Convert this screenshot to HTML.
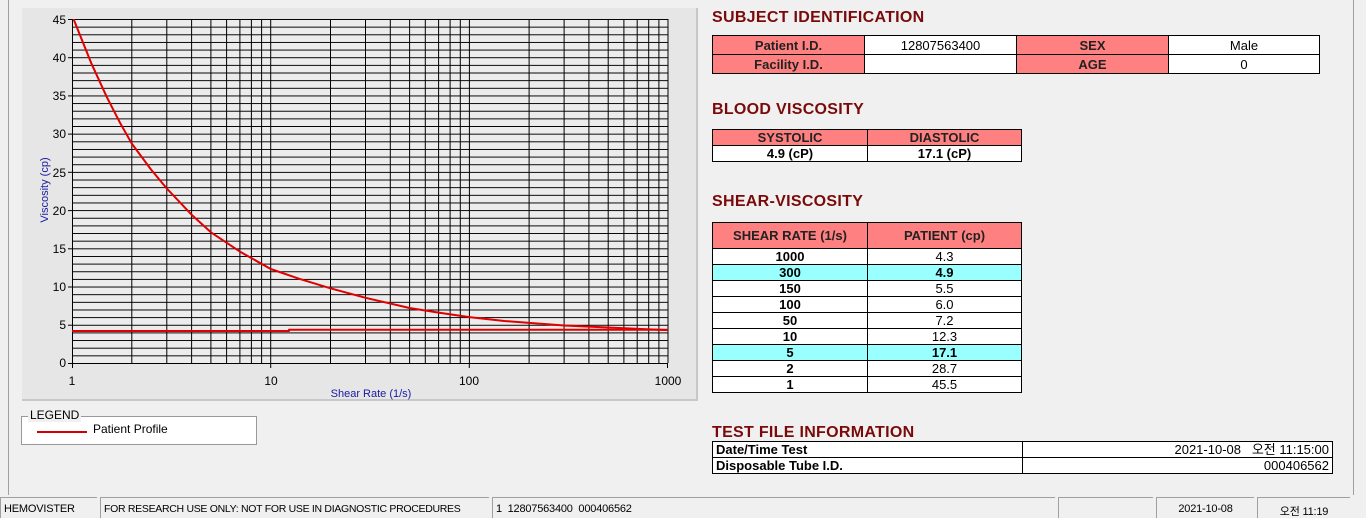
<!DOCTYPE html>
<html><head><meta charset="utf-8"><style>
*{margin:0;padding:0;box-sizing:border-box}
body{width:1366px;height:518px;background:#f0f0f0;position:relative;overflow:hidden;font-family:"Liberation Sans","Noto Sans CJK KR",sans-serif}
.a{position:absolute}
h2{position:absolute;font:bold 16px "Liberation Sans",sans-serif;color:#7a0a0a;letter-spacing:0.3px}
table{position:absolute;border-collapse:collapse;font-size:13px}
td{border:1px solid #000;text-align:center;padding:0;line-height:15px;height:19px}
.p{background:#ff8080;font-weight:bold;color:#222}
.w{background:#fff}
.c{background:#99ffff;font-weight:bold}
.b{font-weight:bold}
.sb{position:absolute;top:497px;height:21px;border-top:1px solid #a0a0a0;border-left:1px solid #a0a0a0;font-size:11px;letter-spacing:-0.2px;padding:5px 3px 0;color:#000;white-space:nowrap;overflow:hidden}
</style></head><body>
<div class="a" style="left:8px;top:0;width:1px;height:495px;background:#a0a0a0"></div>
<div class="a" style="left:1353px;top:0;width:1px;height:495px;background:#a0a0a0"></div>
<div class="a" style="left:22px;top:8px;width:676px;height:393px;background:#e6e6e6;border-bottom:2px solid #c8c8c8;border-right:2px solid #c8c8c8"></div>
<svg class="a" style="left:0;top:0" width="700" height="410">
<defs><pattern id="h" patternUnits="userSpaceOnUse" x="0" y="363" width="700" height="7.644"><line x1="0" y1="0.5" x2="700" y2="0.5" stroke="#000" stroke-width="1"/></pattern>
<g id="dec" stroke="#000" stroke-width="1"><line x1="59.8" y1="19" x2="59.8" y2="363"/><line x1="94.8" y1="19" x2="94.8" y2="363"/><line x1="119.6" y1="19" x2="119.6" y2="363"/><line x1="138.9" y1="19" x2="138.9" y2="363"/><line x1="154.6" y1="19" x2="154.6" y2="363"/><line x1="167.9" y1="19" x2="167.9" y2="363"/><line x1="179.4" y1="19" x2="179.4" y2="363"/><line x1="189.6" y1="19" x2="189.6" y2="363"/><line x1="198.7" y1="19" x2="198.7" y2="363"/></g></defs>
<rect x="72" y="19" width="596" height="344" fill="#ececec"/>
<rect x="72" y="19" width="596" height="344" fill="url(#h)"/>
<use href="#dec" x="72"/><use href="#dec" x="270.7"/><use href="#dec" x="469.3"/>
<line x1="72.5" y1="19" x2="72.5" y2="368" stroke="#000"/>
<line x1="68" y1="363.5" x2="668" y2="363.5" stroke="#000"/>
<g stroke="#000"><line x1="68" y1="19.5" x2="72" y2="19.5"/><line x1="68" y1="57.7" x2="72" y2="57.7"/><line x1="68" y1="95.9" x2="72" y2="95.9"/><line x1="68" y1="134.1" x2="72" y2="134.1"/><line x1="68" y1="172.3" x2="72" y2="172.3"/><line x1="68" y1="210.6" x2="72" y2="210.6"/><line x1="68" y1="248.8" x2="72" y2="248.8"/><line x1="68" y1="287" x2="72" y2="287"/><line x1="68" y1="325.2" x2="72" y2="325.2"/><line x1="270.7" y1="363" x2="270.7" y2="368"/><line x1="469.3" y1="363" x2="469.3" y2="368"/><line x1="667.5" y1="363" x2="667.5" y2="368"/></g>
<g font-size="12" fill="#000" text-anchor="end" font-family="Liberation Sans,sans-serif"><text x="66" y="24">45</text><text x="66" y="62">40</text><text x="66" y="100">35</text><text x="66" y="138">30</text><text x="66" y="177">25</text><text x="66" y="215">20</text><text x="66" y="253">15</text><text x="66" y="291">10</text><text x="66" y="329">5</text><text x="66" y="367">0</text></g>
<g font-size="12" fill="#000" text-anchor="middle" font-family="Liberation Sans,sans-serif"><text x="72" y="385">1</text><text x="271" y="385">10</text><text x="469" y="385">100</text><text x="668" y="385">1000</text></g>
<text x="371" y="397" font-size="11" fill="#1a1aa0" text-anchor="middle" font-family="Liberation Sans,sans-serif">Shear Rate (1/s)</text>
<text transform="translate(48,190) rotate(-90)" font-size="11" fill="#1a1aa0" text-anchor="middle" font-family="Liberation Sans,sans-serif">Viscosity (cp)</text>
<clipPath id="cp"><rect x="72" y="19" width="596" height="344"/></clipPath>
<g clip-path="url(#cp)" fill="none" stroke="#e00000" stroke-width="2" stroke-linejoin="round">
<polyline points="72,15.2 91.3,63.3 107,97.4 120.3,123.3 131.8,143.6 151.1,169.6 166.8,188.5 191.6,214.7 210.9,232.3 239.9,251.6 270.7,269 299.7,278.9 330.5,288.3 365.5,297.8 409.5,308 438.6,312.6 469.3,317.1 504.3,321 529.2,322.9 564.1,325.5 616.5,327.9 668,330.1"/>
<polyline points="72,331 289,331 289,329.7 668,329.7"/>
</g>
</svg>
<div class="a" style="left:21px;top:416px;width:236px;height:29px;border:1px solid #999;background:#fff"></div>
<div class="a" style="left:28px;top:408px;background:#f0f0f0;font-size:12px;padding:0 2px">LEGEND</div>
<div class="a" style="left:37px;top:431px;width:50px;height:2px;background:#d00000"></div>
<div class="a" style="left:93px;top:422px;font-size:12px">Patient Profile</div>

<h2 style="left:712px;top:9px">SUBJECT IDENTIFICATION</h2>
<table style="left:712px;top:35px;width:608px"><tr><td class="p" style="width:152px">Patient I.D.</td><td class="w" style="width:152px">12807563400</td><td class="p" style="width:152px">SEX</td><td class="w">Male</td></tr><tr><td class="p">Facility I.D.</td><td class="w"></td><td class="p">AGE</td><td class="w">0</td></tr></table>
<h2 style="left:712px;top:101px">BLOOD VISCOSITY</h2>
<table style="left:712px;top:129px;width:310px"><tr><td class="p" style="width:155px;height:16px">SYSTOLIC</td><td class="p" style="height:16px">DIASTOLIC</td></tr><tr><td class="w b" style="height:16px">4.9 (cP)</td><td class="w b" style="height:16px">17.1 (cP)</td></tr></table>
<h2 style="left:712px;top:193px">SHEAR-VISCOSITY</h2>
<table style="left:712px;top:222px;width:310px"><tr><td class="p" style="width:155px;height:26px">SHEAR RATE (1/s)</td><td class="p" style="height:26px">PATIENT (cp)</td></tr>
<tr><td class="w b" style="height:16px">1000</td><td class="w" style="height:16px">4.3</td></tr>
<tr><td class="c" style="height:16px">300</td><td class="c" style="height:16px">4.9</td></tr>
<tr><td class="w b" style="height:16px">150</td><td class="w" style="height:16px">5.5</td></tr>
<tr><td class="w b" style="height:16px">100</td><td class="w" style="height:16px">6.0</td></tr>
<tr><td class="w b" style="height:16px">50</td><td class="w" style="height:16px">7.2</td></tr>
<tr><td class="w b" style="height:16px">10</td><td class="w" style="height:16px">12.3</td></tr>
<tr><td class="c" style="height:16px">5</td><td class="c" style="height:16px">17.1</td></tr>
<tr><td class="w b" style="height:16px">2</td><td class="w" style="height:16px">28.7</td></tr>
<tr><td class="w b" style="height:16px">1</td><td class="w" style="height:16px">45.5</td></tr></table>
<h2 style="left:712px;top:424px">TEST FILE INFORMATION</h2>
<table style="left:712px;top:441px;width:621px"><tr><td class="w b" style="width:310px;height:16px;text-align:left;padding-left:3px">Date/Time Test</td><td class="w" style="height:16px;text-align:right;padding-right:3px">2021-10-08 &nbsp; 오전 11:15:00</td></tr><tr><td class="w b" style="height:16px;text-align:left;padding-left:3px">Disposable Tube I.D.</td><td class="w" style="height:16px;text-align:right;padding-right:3px">000406562</td></tr></table>

<div class="sb" style="left:0;width:97px">HEMOVISTER</div>
<div class="sb" style="left:100px;width:389px;font-size:10.5px;letter-spacing:-0.3px">FOR RESEARCH USE ONLY: NOT FOR USE IN DIAGNOSTIC PROCEDURES</div>
<div class="sb" style="left:492px;width:563px">1 &nbsp;12807563400 &nbsp;000406562</div>
<div class="sb" style="left:1058px;width:95px"></div>
<div class="sb" style="left:1156px;width:98px;text-align:center">2021-10-08</div>
<div class="sb" style="left:1257px;width:93px;text-align:center">오전 11:19</div>
</body></html>
